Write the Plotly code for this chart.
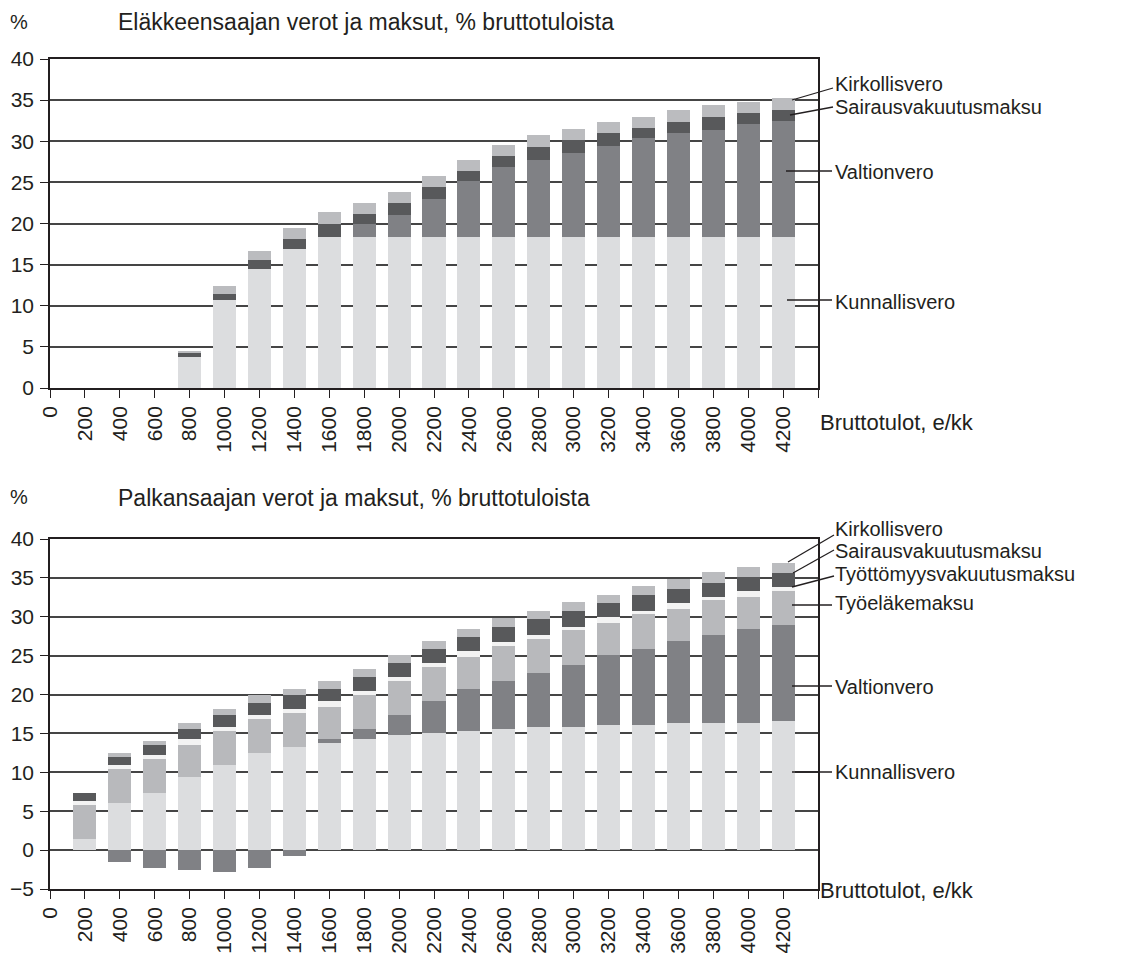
import plotly.graph_objects as go

# The page body has an 8px margin, so build the figure 8px smaller and shift coordinates.
OFF = 8
W, H = 1121 - OFF, 953 - OFF

income = [200, 400, 600, 800, 1000, 1200, 1400, 1600, 1800, 2000, 2200,
          2400, 2600, 2800, 3000, 3200, 3400, 3600, 3800, 4000, 4200]
tick_vals = list(range(0, 4401, 200))
tick_text = [str(v) for v in range(0, 4201, 200)] + [""]

# Pensioner (Eläkkeensaaja)
p_kunnallis = [0, 0, 0, 3.8, 10.75, 14.5, 16.95, 18.4, 18.4, 18.4, 18.4,
               18.4, 18.4, 18.4, 18.4, 18.4, 18.4, 18.4, 18.4, 18.4, 18.4]
p_valtion = [0, 0, 0, 0, 0, 0, 0, 0, 1.6, 2.65, 4.6,
             6.8, 8.5, 9.35, 10.2, 11.05, 12.0, 12.65, 13.0, 13.7, 14.1]
p_sairaus = [0, 0, 0, 0.5, 0.7, 1.1, 1.2, 1.6, 1.2, 1.45, 1.45,
             1.2, 1.35, 1.6, 1.6, 1.6, 1.2, 1.35, 1.6, 1.35, 1.35]
p_kirkollis = [0, 0, 0, 0.25, 1.0, 1.1, 1.35, 1.35, 1.35, 1.35, 1.35,
               1.35, 1.35, 1.35, 1.35, 1.35, 1.35, 1.35, 1.35, 1.35, 1.35]

# Wage earner (Palkansaaja)
w_kunnallis = [1.4, 6.05, 7.35, 9.4, 10.95, 12.5, 13.25, 13.8, 14.3, 14.8, 15.05,
               15.3, 15.6, 15.85, 15.85, 16.1, 16.1, 16.35, 16.35, 16.35, 16.6]
w_valtion = [0, -1.5, -2.25, -2.55, -2.8, -2.25, -0.75, 0.5, 1.3, 2.55, 4.1,
             5.4, 6.2, 6.95, 8.0, 9.0, 9.8, 10.55, 11.35, 12.1, 12.35]
w_tyoelake = [4.4, 4.4, 4.4, 4.1, 4.4, 4.4, 4.4, 4.1, 4.4, 4.4, 4.4,
              4.1, 4.4, 4.4, 4.4, 4.1, 4.4, 4.1, 4.4, 4.1, 4.4]
w_tyottomyys = [0.5, 0.5, 0.5, 0.75, 0.5, 0.5, 0.5, 0.75, 0.5, 0.5, 0.5,
                0.75, 0.5, 0.5, 0.5, 0.75, 0.5, 0.75, 0.5, 0.75, 0.5]
w_sairaus = [1.05, 1.05, 1.3, 1.3, 1.55, 1.55, 1.8, 1.55, 1.8, 1.8, 1.8,
             1.8, 2.05, 2.05, 2.05, 1.8, 2.05, 1.8, 1.8, 1.8, 1.8]
w_kirkollis = [0, 0.5, 0.5, 0.75, 0.75, 1.05, 0.75, 1.05, 1.05, 1.05, 1.05,
               1.05, 1.05, 1.05, 1.05, 1.05, 1.05, 1.3, 1.3, 1.3, 1.3]

C_KUNN = "#dcdddf"
C_VALT = "#808185"
C_SAIR = "#58595b"
C_KIRK = "#bbbcbf"
C_TEL = "#b8b9bc"
C_TT = "#f3f3f3"

FONT = "Liberation Sans, Arial, sans-serif"
TXT = "#231f20"
BW = 132

fig = go.Figure()

def add(y, color, xa, ya, name):
    fig.add_trace(go.Bar(x=income, y=y, marker=dict(color=color, line=dict(width=0)),
                         width=BW, xaxis=xa, yaxis=ya, name=name, showlegend=False))

add(p_kunnallis, C_KUNN, "x", "y", "Kunnallisvero")
add(p_valtion, C_VALT, "x", "y", "Valtionvero")
add(p_sairaus, C_SAIR, "x", "y", "Sairausvakuutusmaksu")
add(p_kirkollis, C_KIRK, "x", "y", "Kirkollisvero")

add(w_kunnallis, C_KUNN, "x2", "y2", "Kunnallisvero")
add(w_valtion, C_VALT, "x2", "y2", "Valtionvero")
add(w_tyoelake, C_TEL, "x2", "y2", "Työeläkemaksu")
add(w_tyottomyys, C_TT, "x2", "y2", "Työttömyysvakuutusmaksu")
add(w_sairaus, C_SAIR, "x2", "y2", "Sairausvakuutusmaksu")
add(w_kirkollis, C_KIRK, "x2", "y2", "Kirkollisvero")

def px(x):
    return (x - OFF) / W

def py(y):
    return 1 - (y - OFF) / H

xdom = [px(50), px(818)]

xcommon = dict(range=[0, 4400], tickmode="array", tickvals=tick_vals, ticktext=tick_text,
               tickangle=-90, ticks="outside", ticklen=8, tickcolor="#231f20", tickwidth=1.3,
               showline=True, linecolor="#231f20", linewidth=1.5, mirror=True,
               showgrid=False, zeroline=False, automargin=False,
               tickfont=dict(family=FONT, size=21, color=TXT), fixedrange=True)
ycommon = dict(dtick=5, tick0=0, ticks="outside", ticklen=8, tickcolor="#231f20", tickwidth=1.3,
               showline=True, linecolor="#231f20", linewidth=1.5, mirror=True,
               showgrid=True, gridcolor="#454545", gridwidth=1.5, zeroline=False,
               automargin=False, ticklabelstandoff=2,
               tickfont=dict(family=FONT, size=21, color=TXT), fixedrange=True)

fig.update_layout(
    width=W, height=H,
    margin=dict(l=0, r=0, t=0, b=0),
    paper_bgcolor="white", plot_bgcolor="white",
    barmode="relative", bargap=0,
    showlegend=False,
    xaxis=dict(domain=xdom, anchor="y", **xcommon),
    yaxis=dict(domain=[py(388), py(59)], anchor="x", range=[0, 40], **ycommon),
    xaxis2=dict(domain=xdom, anchor="y2", **xcommon),
    yaxis2=dict(domain=[py(889), py(539)], anchor="x2", range=[-5, 40], **ycommon),
    font=dict(family=FONT, color=TXT),
)

ann = []
def text(x, y, s, size=20, xanchor="left"):
    ann.append(dict(x=px(x), y=py(y), xref="paper", yref="paper", text=s, showarrow=False,
                    xanchor=xanchor, yanchor="middle",
                    font=dict(family=FONT, size=size, color=TXT)))

text(8, 22, "%", 20)
text(116, 22, "Eläkkeensaajan verot ja maksut, % bruttotuloista", 23)
text(8, 497, "%", 20)
text(116, 498, "Palkansaajan verot ja maksut, % bruttotuloista", 23)
text(818, 423, "Bruttotulot, e/kk", 22)
text(818, 890, "Bruttotulot, e/kk", 22)

LS = 20
# Top chart labels
text(833, 84, "Kirkollisvero", LS)
text(833, 107, "Sairausvakuutusmaksu", LS)
text(833, 172, "Valtionvero", LS)
text(833, 302, "Kunnallisvero", LS)

# Bottom chart labels
text(833, 529, "Kirkollisvero", LS)
text(833, 551, "Sairausvakuutusmaksu", LS)
text(833, 574, "Työttömyysvakuutusmaksu", LS)
text(833, 603, "Työeläkemaksu", LS)
text(833, 687, "Valtionvero", LS)
text(833, 772, "Kunnallisvero", LS)

fig.update_layout(annotations=ann)

shapes = []
def line(x0, y0, x1, y1):
    shapes.append(dict(type="line", xref="paper", yref="paper",
                       x0=px(x0), y0=py(y0), x1=px(x1), y1=py(y1),
                       line=dict(color="#231f20", width=1.3)))

line(792, 100, 833, 88)
line(790, 115, 833, 107)
line(786, 171, 832, 171)
line(787, 300, 832, 300)

line(788, 562, 834, 535)
line(793, 573, 834, 550)
line(792, 587, 834, 576)
line(792, 605, 832, 605)
line(792, 686, 832, 686)
line(792, 772, 832, 772)

fig.update_layout(shapes=shapes)

fig.write_html("out.html")
